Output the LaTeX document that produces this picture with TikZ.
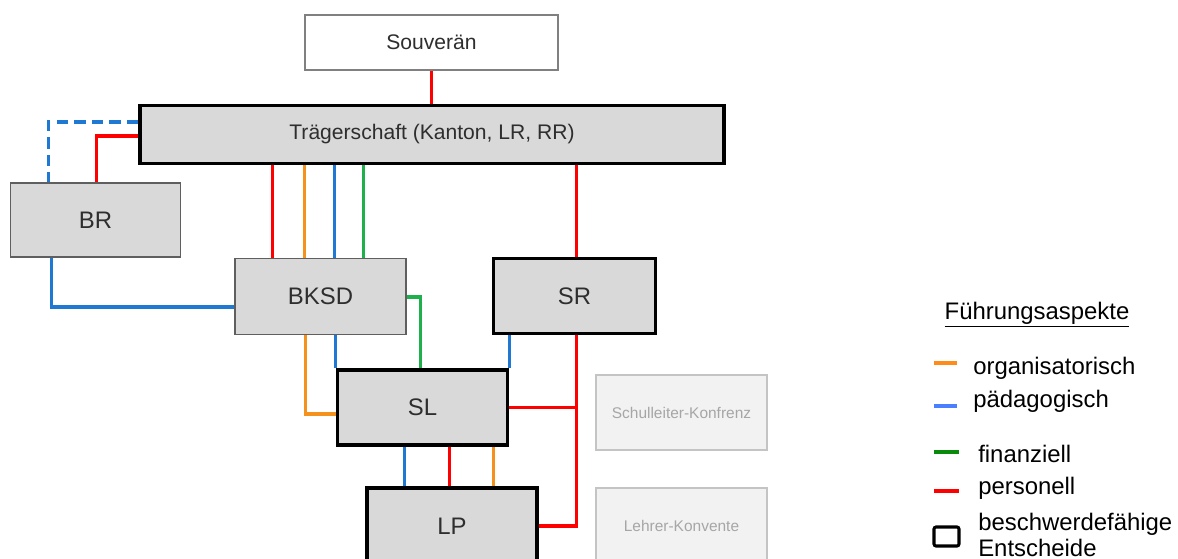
\documentclass[tikz,border=0pt]{standalone}
\usepackage{fontspec}
\setmainfont{Liberation Sans}
\usetikzlibrary{calc, positioning}
\definecolor{perred}{HTML}{FF0000}
\definecolor{orgorange}{HTML}{F5921E}
\definecolor{pedblue}{HTML}{1F78D1}
\definecolor{fingreen}{HTML}{1DB04B}
\definecolor{legorange}{HTML}{FF8C1A}
\definecolor{legblue}{HTML}{4A80FF}
\definecolor{leggreen}{HTML}{0A8A0A}
\definecolor{boxgray}{HTML}{D9D9D9}
\definecolor{boxedge}{HTML}{5F5F5F}
\definecolor{textgray}{HTML}{2E2E2E}
\definecolor{faintfill}{HTML}{F2F2F2}
\definecolor{faintedge}{HTML}{C4C4C4}
\definecolor{fainttext}{HTML}{A6A6A6}
\newcommand{\droplink}[4]
{
	\draw[link, #1] ($ (#2) + (#3, 0) $) coordinate (t) -- (t |- #4)
}

\begin{document}
\begin{tikzpicture}[x=0.025cm, y=-0.025cm,
	box/.style={shape=rectangle, draw=boxedge, fill=boxgray,
		line width=1.2pt, inner sep=0pt, text=textgray,
		minimum width=4.25cm, minimum height=1.875cm,
		font=\fontsize{17}{20}\selectfont},
	keybox/.style={box, draw=black, line width=2.3pt},
	plainbox/.style={box, draw=gray, fill=white,
		font=\fontsize{15}{18}\selectfont},
	faintbox/.style={box, draw=faintedge, fill=faintfill, line width=1.5pt,
		text=fainttext, font=\fontsize{11}{13}\selectfont},
	link/.style={line width=2.3pt},
	keyline/.style={line width=3.5pt},
	keytext/.style={inner sep=0pt, anchor=west, font=\fontsize{17}{18}\selectfont}]

	\useasboundingbox (0, 0) rectangle (1178, 559);
	\clip (0, 0) rectangle (1178, 559);

	\node[plainbox, minimum width=6.325cm, minimum height=1.375cm] at (431.5, 42.5) (souv){Souverän};
	\node[keybox, minimum width=14.6cm, minimum height=1.45cm, font=\fontsize{15}{18}\selectfont] at (432, 134.5) (traeger){Trägerschaft (Kanton, LR, RR)};
	\node[box, minimum height=1.85cm] at (95.5, 220) (br){BR};
	\node[box, minimum width=4.275cm, minimum height=1.9cm] at (320.5, 296.5) (bksd){BKSD};
	\node[keybox, minimum width=4.05cm] at (574.5, 296) (sr){SR};
	\node[keybox] at (422.5, 407.5) (sl){SL};
	\node[keybox, minimum height=1.9cm] at (452, 526) (lp){LP};
	\node[faintbox, minimum width=4.275cm] at (681.5, 412.5) (slk){Schulleiter-Konfrenz};
	\node[faintbox, minimum width=4.275cm, minimum height=1.9cm] at (681.5, 526) (lk){Lehrer-Konvente};

	% Souveraen und Traegerschaft
	\droplink{perred}{souv.south}{0}{traeger.north};
	\droplink{perred}{sr.north west}{85}{traeger.south};
	\foreach \dx/\col in {38/perred, 70/orgorange, 100/pedblue, 129/fingreen}
		\droplink{\col}{bksd.north west}{\dx}{traeger.south};

	% BR
	\draw[link, pedblue, dash pattern=on 8pt off 4.5pt] ($ (traeger.west) + (0, -12.5) $) -| ($ (br.north west) + (38.5, 0) $);
	\draw[link, perred] ($ (traeger.west) + (0, 1.5) $) -| ($ (br.north west) + (86.5, 0) $);
	\draw[link, pedblue] ($ (br.south west) + (41.5, 0) $) |- ($ (bksd.west) + (0, 10.5) $);

	% BKSD, SR und SL
	\draw[link, fingreen] ($ (bksd.east) + (0, 0.5) $) -| ($ (sl.north west) + (85, 0) $);
	\draw[link, orgorange] ($ (bksd.south west) + (71, 0) $) |- ($ (sl.west) + (0, 6.5) $);
	\droplink{pedblue}{sl.north west}{0}{bksd.south};
	\droplink{pedblue}{sl.north east}{0}{sr.south};
	\draw[link, perred] ($ (sr.south west) + (85, 0) $) coordinate (j) |- (lp.east);
	\draw[link, perred] (sl.east) -- (sl.east -| j);

	% SL und LP
	\foreach \dx/\col in {39/pedblue, 84/perred, 128/orgorange}
		\droplink{\col}{lp.north west}{\dx}{sl.south};

	% Legende
	\node[inner sep=0pt, font=\fontsize{17}{18}\selectfont] at (1037, 315) (legtitle){\underline{Führungsaspekte}};
	\draw[keyline, legorange] (934, 363) -- (957, 363);
	\node[keytext] at (973, 368) (korg){organisatorisch};
	\draw[keyline, legblue] (934, 406) -- (957, 406);
	\node[keytext] at (973, 401) (kped){pädagogisch};
	\draw[keyline, leggreen] (934, 452) -- (959, 452);
	\node[keytext] at (978, 454) (kfin){finanziell};
	\draw[keyline, perred] (934, 491) -- (959, 491);
	\node[keytext] at (978, 488) (kper){personell};
	\draw[line width=2.2pt, rounded corners=1.5pt] (934, 527) rectangle (959, 546);
	\node[keytext, align=left] at (978, 535) (kbes){beschwerdefähige\\Entscheide};
\end{tikzpicture}
\end{document}
